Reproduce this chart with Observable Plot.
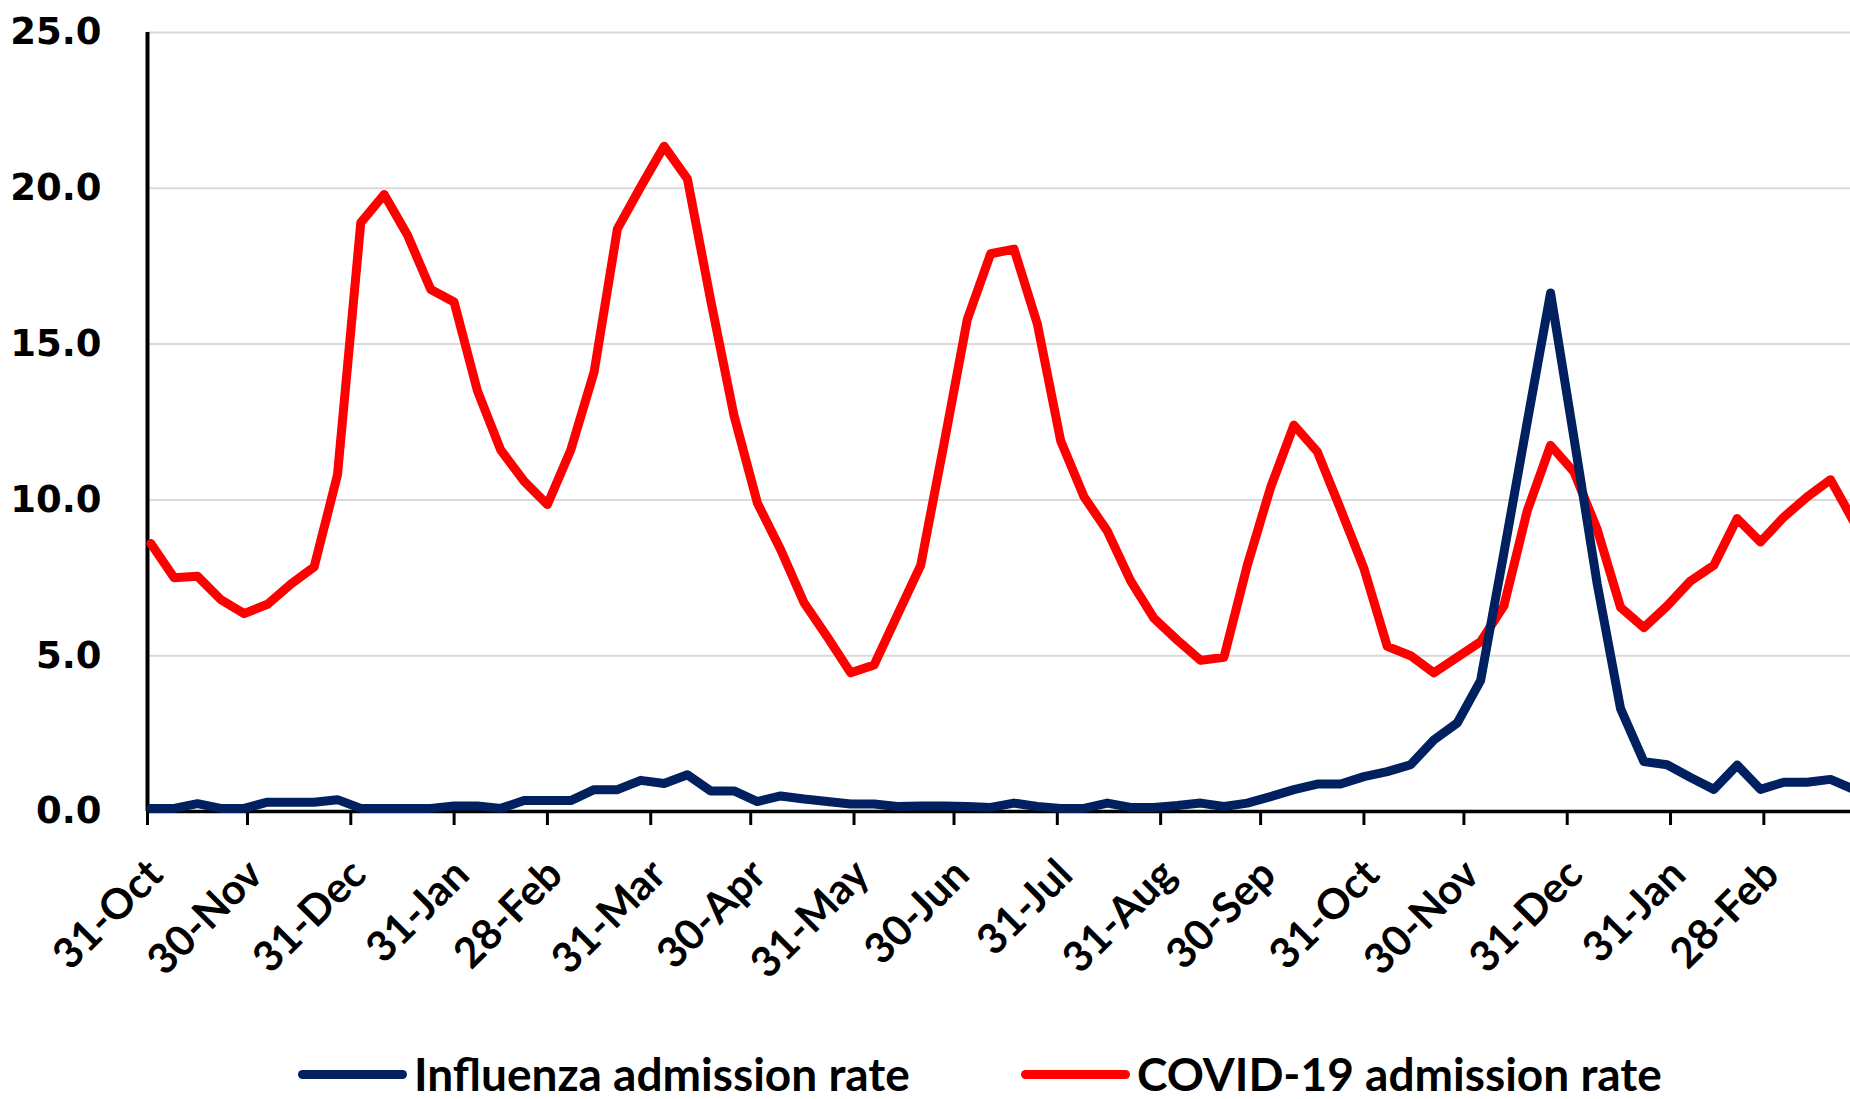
<!DOCTYPE html>
<html>
<head>
<meta charset="utf-8">
<script src="https://cdn.jsdelivr.net/npm/d3@7"></script>
<script src="https://cdn.jsdelivr.net/npm/@observablehq/plot@0.6"></script>
<style>
  html, body { margin: 0; padding: 0; background: #fff; overflow: hidden; }
  #legend { position: relative; width: 1850px; height: 89px; font-family: Lato, sans-serif; font-weight: bold; color: #000; }
  .item { position: absolute; top: 41px; height: 46px; display: flex; align-items: center; white-space: nowrap; }
  .swatch { width: 109px; height: 9px; border-radius: 4.5px; margin-right: 7px; }
  .label { font-size: 46px; line-height: 1; }
</style>
</head>
<body>
<div id="chart"></div>
<div id="legend"></div>
<script>
// Weekly dates (Mondays)
const weekDates = [
  "2021-11-01","2021-11-08","2021-11-15","2021-11-22","2021-11-29","2021-12-06","2021-12-13","2021-12-20","2021-12-27",
  "2022-01-03","2022-01-10","2022-01-17","2022-01-24","2022-01-31","2022-02-07","2022-02-14","2022-02-21","2022-02-28",
  "2022-03-07","2022-03-14","2022-03-21","2022-03-28","2022-04-04","2022-04-11","2022-04-18","2022-04-25",
  "2022-05-02","2022-05-09","2022-05-16","2022-05-23","2022-05-30","2022-06-06","2022-06-13","2022-06-20","2022-06-27",
  "2022-07-04","2022-07-11","2022-07-18","2022-07-25","2022-08-01","2022-08-08","2022-08-15","2022-08-22","2022-08-29",
  "2022-09-05","2022-09-12","2022-09-19","2022-09-26","2022-10-03","2022-10-10","2022-10-17","2022-10-24","2022-10-31",
  "2022-11-07","2022-11-14","2022-11-21","2022-11-28","2022-12-05","2022-12-12","2022-12-19","2022-12-26",
  "2023-01-02","2023-01-09","2023-01-16","2023-01-23","2023-01-30","2023-02-06","2023-02-13","2023-02-20","2023-02-27",
  "2023-03-06","2023-03-13","2023-03-20","2023-03-27"
];

const fluRate = [
  0.1, 0.1, 0.25, 0.1, 0.1, 0.3, 0.3, 0.3, 0.38,
  0.1, 0.1, 0.1, 0.1, 0.18, 0.18, 0.1, 0.35, 0.35,
  0.35, 0.7, 0.7, 1.0, 0.9, 1.18, 0.66, 0.66,
  0.32, 0.5, 0.4, 0.32, 0.24, 0.24, 0.16, 0.18, 0.18,
  0.16, 0.13, 0.27, 0.16, 0.1, 0.1, 0.27, 0.13, 0.13,
  0.19, 0.27, 0.16, 0.27, 0.48, 0.7, 0.88, 0.88, 1.12,
  1.28, 1.5, 2.3, 2.84, 4.2, 8.3, 12.5, 16.64,
  12.0, 7.3, 3.3, 1.6, 1.5, 1.09, 0.71, 1.49, 0.71,
  0.94, 0.94, 1.03, 0.71
];

const covidRate = [
  8.6, 7.5, 7.55, 6.8, 6.35, 6.65, 7.3, 7.85, 10.8,
  18.9, 19.8, 18.5, 16.75, 16.35, 13.5, 11.6, 10.6, 9.85,
  11.6, 14.1, 18.7, 20.05, 21.35, 20.3, 16.4, 12.7,
  9.9, 8.4, 6.7, 5.6, 4.45, 4.7, 6.3, 7.9, 11.8,
  15.8, 17.9, 18.05, 15.65, 11.9, 10.1, 9.0, 7.4, 6.2,
  5.5, 4.85, 4.95, 7.9, 10.4, 12.4, 11.55, 9.7, 7.8,
  5.3, 5.0, 4.45, 4.95, 5.45, 6.6, 9.65, 11.75,
  10.9, 9.05, 6.55, 5.9, 6.6, 7.4, 7.9, 9.4, 8.65,
  9.45, 10.1, 10.65, 9.3
];

const tickDates = [
  "2021-10-31","2021-11-30","2021-12-31","2022-01-31","2022-02-28","2022-03-31","2022-04-30","2022-05-31",
  "2022-06-30","2022-07-31","2022-08-31","2022-09-30","2022-10-31","2022-11-30","2022-12-31","2023-01-31","2023-02-28"
];
const yTicks = [0, 5, 10, 15, 20, 25];
const seriesNames = ["Influenza admission rate", "COVID-19 admission rate"];
const seriesColors = ["#002060", "#ff0000"];

const xStart = new Date("2021-10-31");
const xEnd = new Date("2023-03-26");

const data = weekDates.map((d, i) => ({date: new Date(d), flu: fluRate[i], covid: covidRate[i]}));
const xTicks = tickDates.map(d => new Date(d));

const chart = Plot.plot({
  width: 1850,
  height: 1010,
  marginLeft: 147,
  marginRight: 0,
  marginTop: 32,
  marginBottom: 199,
  style: {fontFamily: "Lato, sans-serif", fontWeight: "bold", color: "#000", background: "#fff"},
  x: {type: "utc", domain: [xStart, xEnd]},
  y: {domain: [0, 25]},
  marks: [
    Plot.gridY(yTicks, {stroke: "#d9d9d9", strokeOpacity: 1, strokeWidth: 2}),
    Plot.axisY(yTicks, {tickSize: 0, tickPadding: 46, tickFormat: d => d.toFixed(1), fontSize: 37, fontFamily: "DejaVu Sans", fontWeight: "bold", label: null}),
    // tick marks only
    Plot.axisX(xTicks, {tickSize: 14, tickFormat: () => "", strokeWidth: 3, label: null}),
    // rotated tick labels
    Plot.axisX(xTicks, {tickSize: 0, tickPadding: 56, tickRotate: -45, dx: 8, tickFormat: d3.utcFormat("%d-%b"), fontSize: 42, fontWeight: "bold", label: null}),
    Plot.ruleY([0], {stroke: "#000", strokeWidth: 3.5}),
    Plot.ruleX([xStart], {y1: 0, y2: 25, stroke: "#000", strokeWidth: 4}),
    Plot.line(data, {x: "date", y: "covid", stroke: seriesColors[1], strokeWidth: 9, strokeLinejoin: "round", strokeLinecap: "round"}),
    Plot.line(data, {x: "date", y: "flu", stroke: seriesColors[0], strokeWidth: 9, strokeLinejoin: "round", strokeLinecap: "round"})
  ]
});
document.getElementById("chart").appendChild(chart);

const legend = document.getElementById("legend");
const legendLeft = [298, 1021];
seriesNames.forEach((name, i) => {
  const item = document.createElement("div");
  item.className = "item";
  item.style.left = legendLeft[i] + "px";
  const sw = document.createElement("div");
  sw.className = "swatch";
  sw.style.background = seriesColors[i];
  const lb = document.createElement("span");
  lb.className = "label";
  lb.textContent = name;
  item.appendChild(sw);
  item.appendChild(lb);
  legend.appendChild(item);
});
</script>
</body>
</html>
